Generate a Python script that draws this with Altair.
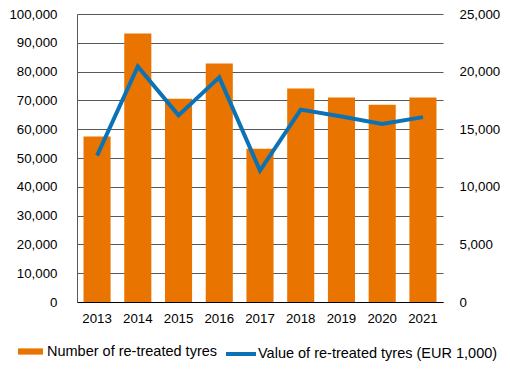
import altair as alt
import pandas as pd

years = ["2013", "2014", "2015", "2016", "2017", "2018", "2019", "2020", "2021"]
tyres = [57500, 93200, 70600, 82800, 53200, 74100, 71000, 68500, 71000]
value = [12700, 20450, 16200, 19500, 11400, 16700, 16100, 15450, 16050]

s1 = "Number of re-treated tyres"
s2 = "Value of re-treated tyres (EUR 1,000)"

ORANGE = "#E97500"
BLUE = "#0B72B5"
GRID = "#595959"
FONT = "Liberation Sans"

df = pd.DataFrame({"year": years, "tyres": tyres, "value": value, "s1": s1, "s2": s2})

x = alt.X(
    "year:N",
    title=None,
    scale=alt.Scale(paddingInner=0.335, paddingOuter=0.16),
    axis=alt.Axis(labelAngle=0, ticks=False, domainColor="#000000", labelPadding=9, grid=False),
)

bars = alt.Chart(df).mark_bar().encode(
    x=x,
    y=alt.Y(
        "tyres:Q",
        title=None,
        scale=alt.Scale(domain=[0, 100000], nice=False),
        axis=alt.Axis(
            values=list(range(0, 100001, 10000)),
            format=",.0f",
            ticks=False,
            labelPadding=20,
            grid=True,
            gridColor=GRID,
            domainColor=GRID,
        ),
    ),
    color=alt.Color(
        "s1:N",
        scale=alt.Scale(domain=[s1], range=[ORANGE]),
        legend=alt.Legend(
            title=None,
            orient="none",
            legendX=-59,
            legendY=325,
            padding=0,
            symbolType="M-1,-0.25H1V0.25H-1Z",
            symbolSize=625,
            symbolStrokeWidth=0,
            labelOffset=4,
            labelLimit=0,
        ),
    ),
)

line = alt.Chart(df).mark_line(strokeWidth=4).encode(
    x=x,
    y=alt.Y(
        "value:Q",
        title=None,
        scale=alt.Scale(domain=[0, 25000], nice=False),
        axis=alt.Axis(
            orient="right",
            values=list(range(0, 25001, 5000)),
            format=",.0f",
            ticks=False,
            domain=False,
            grid=False,
            labelPadding=16,
        ),
    ),
    stroke=alt.Stroke(
        "s2:N",
        scale=alt.Scale(domain=[s2], range=[BLUE]),
        legend=alt.Legend(
            title=None,
            orient="none",
            legendX=147,
            legendY=323,
            padding=0,
            symbolType="stroke",
            symbolSize=900,
            symbolStrokeWidth=4,
            labelOffset=0,
            labelLimit=0,
        ),
    ),
)

chart = (
    alt.layer(bars, line)
    .resolve_scale(y="independent", color="independent", stroke="independent")
    .properties(
        width=366,
        height=288,
        autosize=alt.AutoSizeParams(type="none"),
        padding={"left": 69, "top": 6, "right": 59, "bottom": 59},
    )
    .configure_view(stroke=None)
    .configure_axis(labelFont=FONT, labelFontSize=13.3, labelColor="#000000")
    .configure_legend(labelFont=FONT, labelFontSize=14.5, labelColor="#000000")
)

chart.save("out.html", embed_options={"renderer": "svg", "actions": False})
